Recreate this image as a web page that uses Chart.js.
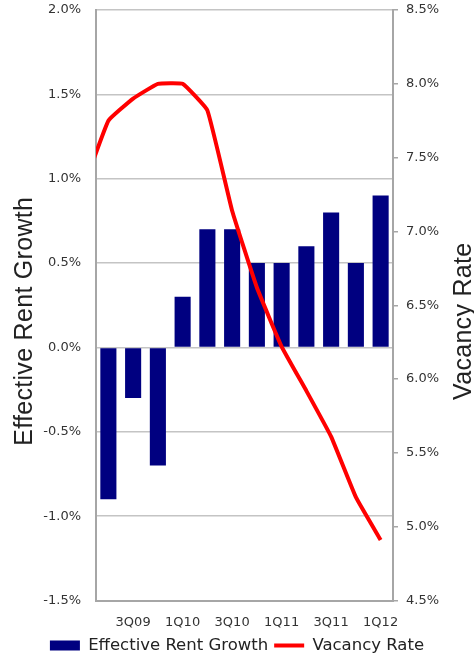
<!DOCTYPE html>
<html>
<head>
<meta charset="utf-8">
<script src="https://cdn.jsdelivr.net/npm/chart.js@4.4.1/dist/chart.umd.min.js"></script>
<style>
  html, body { margin: 0; padding: 0; background: #fff; }
  #wrap { width: 474px; height: 658px; }
</style>
</head>
<body>
<div id="wrap"><canvas id="rentChart" width="474" height="658"></canvas></div>
<script>
// 1Q09 sits just left of the plot so the vacancy line runs in from the edge
const quarters = ['1Q09', '2Q09', '3Q09', '4Q09', '1Q10', '2Q10', '3Q10', '4Q10', '1Q11', '2Q11', '3Q11', '4Q11', '1Q12'];
const shownQuarters = ['3Q09', '1Q10', '3Q10', '1Q11', '3Q11', '1Q12'];
const rentGrowth = [null, -0.9, -0.3, -0.7, 0.3, 0.7, 0.7, 0.5, 0.5, 0.6, 0.8, 0.5, 0.9];
const vacancyRate = [7.3, 7.75, 7.9, 8.0, 8.0, 7.82, 7.14, 6.62, 6.22, 5.92, 5.61, 5.2, 4.91];
const rentRange = [-1.5, 2.0];
const vacancyRange = [4.5, 8.5];
const tickStep = 0.5;
const leftTitle = 'Effective Rent Growth';
const rightTitle = 'Vacancy Rate';

const tickFont = { family: 'DejaVu Sans', size: 13 };
const tickColor = '#333';
const axisGray = '#a6a6a6';
const pct = v => Number(v).toFixed(1) + '%';

// tick padding would otherwise be added above/below the value axes
function fixValueAxis(width) {
    return function (s) {
        s.width = width;
        s.paddingTop = 0;
        s.paddingBottom = 0;
    };
}

// rotated axis titles, both reading bottom-to-top
const axisTitles = {
    id: 'axisTitles',
    afterDraw(chart) {
        const { ctx, chartArea } = chart;
        const midY = (chartArea.top + chartArea.bottom) / 2 + 16;
        ctx.save();
        ctx.font = '25px "Liberation Sans"';
        ctx.letterSpacing = '0.3px';
        ctx.fillStyle = '#222';
        ctx.textAlign = 'center';
        ctx.textBaseline = 'alphabetic';
        [[32, leftTitle], [471, rightTitle]].forEach(([x, text]) => {
            ctx.save();
            ctx.translate(x, midY);
            ctx.rotate(-Math.PI / 2);
            ctx.fillText(text, 0, 0);
            ctx.restore();
        });
        ctx.restore();
    }
};

const ctx = document.getElementById('rentChart').getContext('2d');
new Chart(ctx, {
    type: 'bar',
    data: {
        labels: quarters,
        datasets: [
            {
                type: 'line',
                label: 'Vacancy Rate',
                data: vacancyRate,
                yAxisID: 'yVac',
                borderColor: '#ff0000',
                backgroundColor: '#ff0000',
                borderWidth: 4,
                pointRadius: 0,
                pointStyle: 'line',
                tension: 0.1,
                clip: 0,
                order: 1
            },
            {
                type: 'bar',
                label: 'Effective Rent Growth',
                data: rentGrowth,
                yAxisID: 'yRent',
                backgroundColor: '#000080',
                borderWidth: 0,
                pointStyle: 'rect',
                categoryPercentage: 1.0,
                barPercentage: 0.65,
                order: 2
            }
        ]
    },
    plugins: [axisTitles],
    options: {
        responsive: false,
        animation: false,
        layout: { padding: { top: 10, left: 0, right: 0, bottom: -5.75 } },
        plugins: {
            tooltip: { enabled: false },
            legend: {
                position: 'bottom',
                reverse: true,
                labels: {
                    usePointStyle: true,
                    pointStyleWidth: 30,
                    boxHeight: 10,
                    padding: 6,
                    color: '#222',
                    font: { family: 'DejaVu Sans', size: 16.5 }
                }
            }
        },
        scales: {
            x: {
                min: '2Q09',
                offset: true,
                grid: { display: false, drawTicks: false },
                border: { display: true, color: axisGray, width: 2 },
                ticks: {
                    autoSkip: false,
                    maxRotation: 0,
                    padding: 14,
                    color: tickColor,
                    font: tickFont,
                    callback: function (v) {
                        const q = quarters[v];
                        return shownQuarters.includes(q) ? q : '';
                    }
                },
                afterFit: function (s) { s.height = 30.75; }
            },
            yRent: {
                position: 'left',
                min: rentRange[0],
                max: rentRange[1],
                ticks: { stepSize: tickStep, padding: 15, color: tickColor, font: tickFont, callback: pct },
                grid: { color: '#c4c4c4', lineWidth: 1.5, drawTicks: false },
                border: { color: axisGray, width: 2 },
                afterFit: fixValueAxis(96)
            },
            yVac: {
                position: 'right',
                min: vacancyRange[0],
                max: vacancyRange[1],
                ticks: { stepSize: tickStep, padding: 8, color: tickColor, font: tickFont, callback: pct },
                grid: { drawOnChartArea: false, drawTicks: true, tickLength: 5, color: axisGray, lineWidth: 1.5 },
                border: { color: axisGray, width: 2 },
                afterFit: fixValueAxis(81)
            }
        }
    }
});
</script>
</body>
</html>
